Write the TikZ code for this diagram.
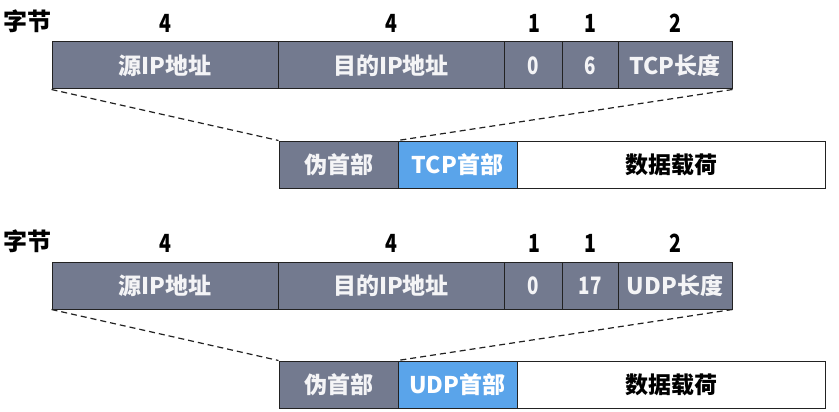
\documentclass[tikz,border=0pt]{standalone}
\usepackage{fontspec}
\setmainfont{Noto Sans CJK SC}
\newfontfamily\narrowfont{Noto Sans CJK SC}[FakeStretch=0.78]
\definecolor{slate}{HTML}{737A8F}
\definecolor{hblue}{HTML}{5AA4EA}
\definecolor{edge}{HTML}{222222}
\definecolor{wtxt}{HTML}{F4F4F6}
\tikzset{
  cell/.style={draw=edge, line width=1pt, fill=slate, text=wtxt, inner sep=0pt,
     font=\fontsize{23}{26}\selectfont\bfseries},
  bluecell/.style={cell, fill=hblue, text=white},
  whitecell/.style={cell, fill=white, text=black},
  num/.style={font=\fontsize{25}{28}\selectfont\narrowfont\bfseries, inner sep=0pt},
  numin/.style={cell, font=\fontsize{24}{27}\selectfont\narrowfont\bfseries},
  unit/.style={font=\fontsize{24}{27}\selectfont\bfseries, inner sep=0pt},
  zoomline/.style={draw=edge, line width=1.2pt, dash pattern=on 6pt off 4pt}
}
\newcommand\drawpacket[4]{%
  \begin{scope}[yshift=#2]
  \node[unit] (#1lab) at (28,21) {字节};
  \node[num] (#1n1) at (165,23) {4};
  \node[num] (#1n2) at (391,23) {4};
  \node[num] (#1n3) at (534,23) {1};
  \node[num] (#1n4) at (590,23) {1};
  \node[num] (#1n5) at (675,23) {2};
  \node[cell, minimum width=226pt, minimum height=47pt] (#1src) at (165,65.5) {源IP地址};
  \node[cell, minimum width=226pt, minimum height=47pt] (#1dst) at (391,65.5) {目的IP地址};
  \node[numin, minimum width=58pt, minimum height=47pt] (#1zero) at (533,65.5) {0};
  \node[numin, minimum width=56pt, minimum height=47pt] (#1proto) at (590,65.5) {#3};
  \node[cell, minimum width=114pt, minimum height=47pt] (#1len) at (675,65.5) {#4长度};
  \node[cell, minimum width=119pt, minimum height=47pt] (#1pseudo) at (338.5,164.5) {伪首部};
  \node[bluecell, minimum width=119pt, minimum height=47pt] (#1hdr) at (457.5,164.5) {#4首部};
  \node[whitecell, minimum width=308pt, minimum height=47pt] (#1data) at (671,164.5) {数据载荷};
  \draw[zoomline] (#1src.south west) -- (#1pseudo.north west);
  \draw[zoomline] (#1len.south east) -- (#1hdr.north west);
  \end{scope}}
\begin{document}
\begin{tikzpicture}[x=1pt, y=-1pt]
\useasboundingbox[fill=white] (0,0) rectangle (839,412);
\drawpacket{a}{0pt}{6}{TCP}
\drawpacket{b}{-220pt}{17}{UDP}
\end{tikzpicture}
\end{document}
